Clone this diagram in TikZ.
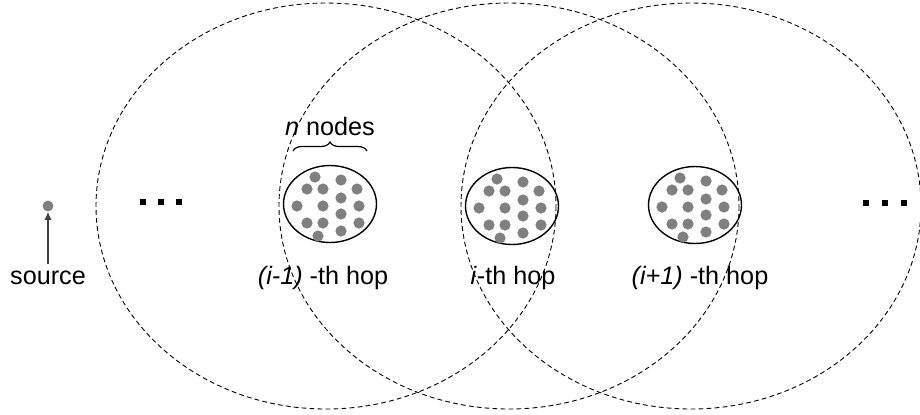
\documentclass[tikz,border=0pt]{standalone}
\usepackage{fontspec}
\setmainfont{Liberation Sans}
\usetikzlibrary{arrows.meta,decorations.pathreplacing,shapes.geometric}
\begin{document}
\begin{tikzpicture}[x=0.5pt,y=-0.5pt,
  hoparea/.style={draw, dash pattern=on 2.4pt off 1.6pt, line width=0.45pt},
  cluster/.style={draw, ellipse, line width=0.7pt, minimum width=46.5pt, minimum height=38.5pt, inner sep=0pt},
  member/.style={circle, fill=black!50, inner sep=0pt, minimum size=5.4pt},
  dotsq/.style={rectangle, fill=black, inner sep=0pt, minimum size=2.7pt},
  lbl/.style={font=\fontsize{12.6}{15}\selectfont, anchor=base, inner sep=0pt},
]
\useasboundingbox (0,0) rectangle (920,414);

% coverage areas of the hops
\draw[hoparea] (326,206) ellipse [x radius=230, y radius=203];
\draw[hoparea] (509,206) ellipse [x radius=230, y radius=203];
\draw[hoparea] (691,206) ellipse [x radius=230, y radius=203];

% clusters
\node[cluster] (c1) at (330,204) {};
\node[cluster] (c2) at (512,206) {};
\node[cluster] (c3) at (695,205) {};

\foreach \cx/\cy in {330/204, 512/206, 695/205}{
  \foreach \dx/\dy in {-15/-27, 11/-24, -23/-15, -7/-15, 27/-15, 11/-6, -33/2, -7/2, 29/2, 11/10, -23/19, -7/19, 29/19, 11/27, -12/32}
    \fill[black!50] (\cx+\dx, \cy+\dy) circle [radius=5.6];
}

% source
\node[member] (src) at (48,206) {};
\node[lbl] (srclbl) at (48,284) {source};
\coordinate (srctail) at (48,264);
\draw[-{Latex[length=4pt,width=3.6pt]}, black!75, line width=0.6pt] (srctail) -- (src);

% ellipsis marks
\node[dotsq] (l1) at (143,202) {};
\node[dotsq] (l2) at (161,202) {};
\node[dotsq] (l3) at (179,202) {};
\node[dotsq] (r1) at (866,203) {};
\node[dotsq] (r2) at (885,203) {};
\node[dotsq] (r3) at (904,203) {};

% brace and n nodes
\coordinate (bl) at (293,151);
\coordinate (br) at (367,151);
\draw[line width=0.6pt, decorate, decoration={brace, amplitude=4.5pt}] (bl) -- (br);
\node[lbl] (nlbl) at (330,135) {\textit{n} nodes};

% hop labels
\node[lbl] (h1) at (323,284) {\textit{(i-1)} -th hop};
\node[lbl] (h2) at (513,284) {\textit{i}-th hop};
\node[lbl] (h3) at (700,284) {\textit{(i+1)} -th hop};
\end{tikzpicture}
\end{document}
